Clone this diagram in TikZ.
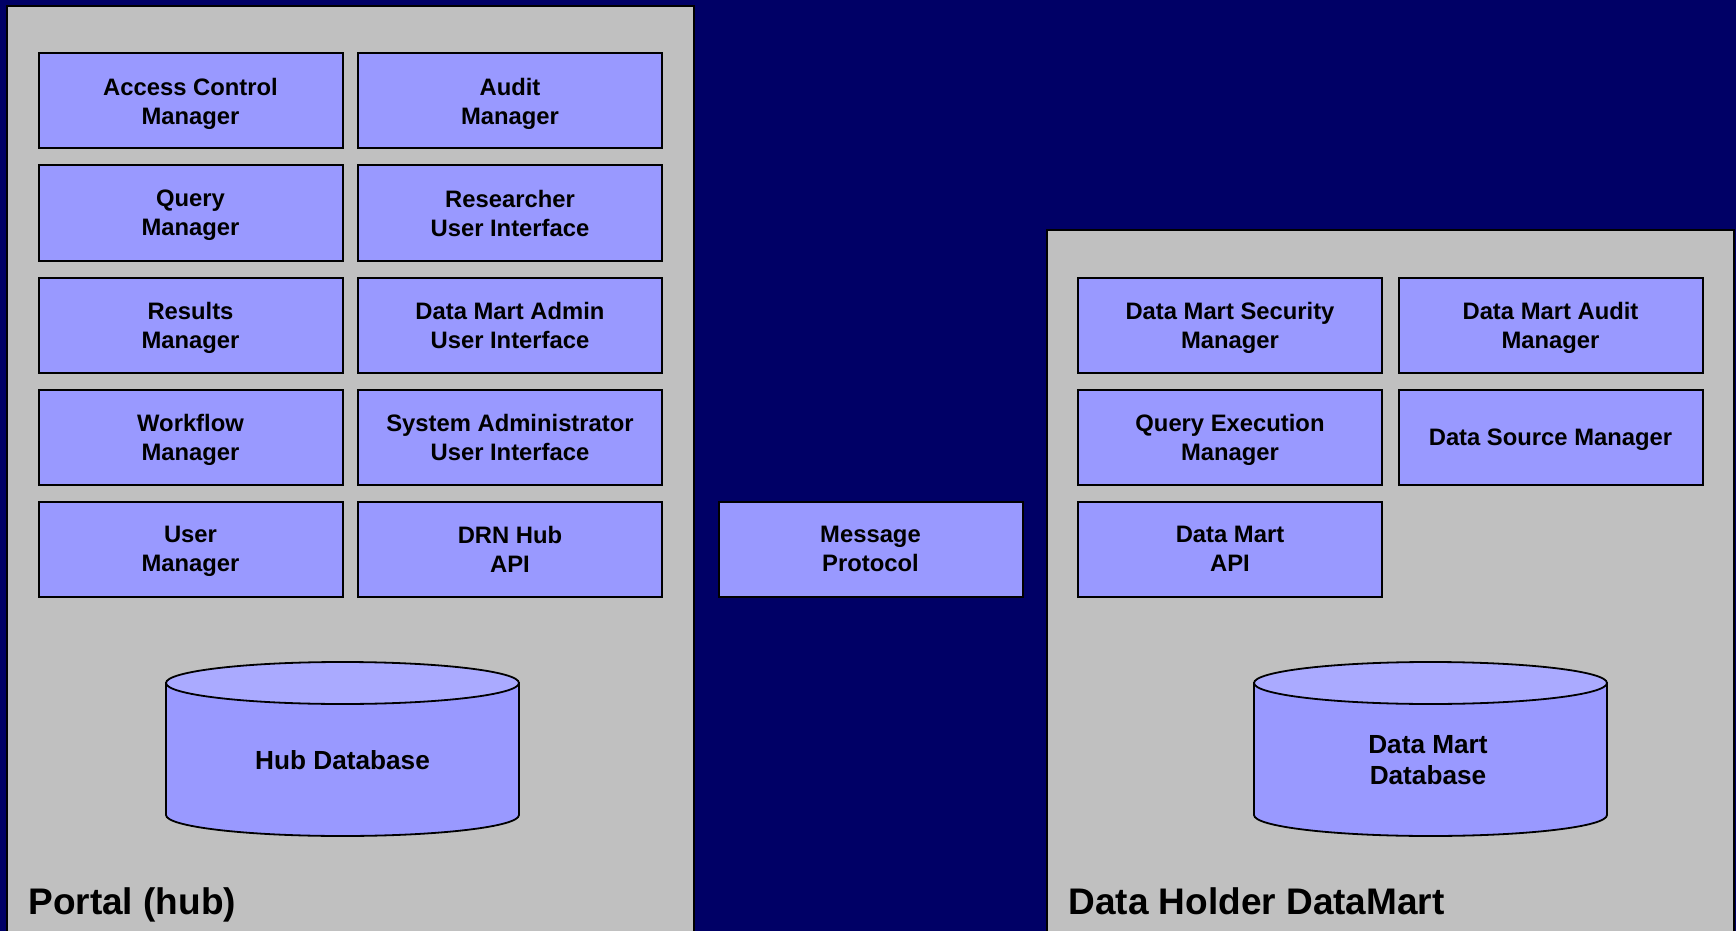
\documentclass[tikz,border=0pt]{standalone}
\usepackage{fontspec}
\setmainfont{Liberation Sans}
\usetikzlibrary{positioning}
\definecolor{navybg}{RGB}{0,0,102}
\definecolor{panelgray}{RGB}{192,192,192}
\definecolor{boxblue}{RGB}{153,153,255}
\definecolor{boxtop}{RGB}{170,170,255}
\tikzset{
  panel/.style={fill=panelgray, draw=black, line width=1pt},
  comp/.style={
    draw=black, fill=boxblue, line width=1pt,
    minimum width=152pt, minimum height=47.5pt, inner sep=0pt,
    text depth=-1pt,
    align=center, font=\fontsize{11.9}{14.4}\selectfont\bfseries
  },
  dbbody/.style={fill=boxblue, draw=black, line width=0.9pt},
  dbtop/.style={fill=boxtop, draw=black, line width=0.9pt},
  dbtext/.style={align=center, font=\fontsize{13.1}{15.5}\selectfont\bfseries},
  tierlabel/.style={anchor=base west, inner sep=0pt, font=\fontsize{18.5}{22}\selectfont\bfseries}
}

\begin{document}
\begin{tikzpicture}[x=0.5pt,y=-0.5pt]
  \useasboundingbox (0,0) rectangle (1736,931);
  \fill[navybg] (0,0) rectangle (1736,931);
  % the two tiers
  \draw[panel] (7,6) rectangle (694,945);
  \draw[panel] (1047,230) rectangle (1734,945);
  % hub components
  \node[comp] (acm) at (190.5,101) {Access Control\\Manager};
  \node[comp] (audit) at (510,101) {Audit\\Manager};
  \node[comp] (query) at (190.5,213) {Query\\Manager};
  \node[comp] (research) at (510,213) {Researcher\\User Interface};
  \node[comp] (results) at (190.5,325) {Results\\Manager};
  \node[comp] (dmadmin) at (510,325) {Data Mart Admin\\User Interface};
  \node[comp] (workflow) at (190.5,437) {Workflow\\Manager};
  \node[comp] (sysadmin) at (510,437) {System Administrator\\User Interface};
  \node[comp] (usermgr) at (190.5,549) {User\\Manager};
  \node[comp] (hubapi) at (510,549) {DRN Hub\\API};
  % between the tiers
  \node[comp] (msg) at (870.5,549) {Message\\Protocol};
  % datamart components
  \node[comp] (dmsec) at (1230,325) {Data Mart Security\\Manager};
  \node[comp] (dmaudit) at (1550.5,325) {Data Mart Audit\\Manager};
  \node[comp] (qexec) at (1230,437) {Query Execution\\Manager};
  \node[comp] (dsrc) at (1550.5,437) {Data Source Manager};
  \node[comp] (dmapi) at (1230,549) {Data Mart\\API};
  % databases
  \foreach \cx in {342.5,1430.5} {
    \filldraw[dbbody] (\cx-176.5,683) -- (\cx-176.5,815)
      arc[start angle=180,end angle=360,x radius=88.25pt,y radius=10.5pt]
      -- (\cx+176.5,683) -- cycle;
    \filldraw[dbtop] (\cx,683) ellipse[x radius=88.25pt,y radius=10.5pt];
  }
  \node[dbtext] (hubdb) at (342.5,760) {Hub Database};
  \node[dbtext] (dmdb) at (1428,760) {Data Mart\\Database};
  % tier names
  \node[tierlabel] (portal) at (28,914) {Portal (hub)};
  \node[tierlabel] (holder) at (1068,914) {Data Holder DataMart};
\end{tikzpicture}
\end{document}
